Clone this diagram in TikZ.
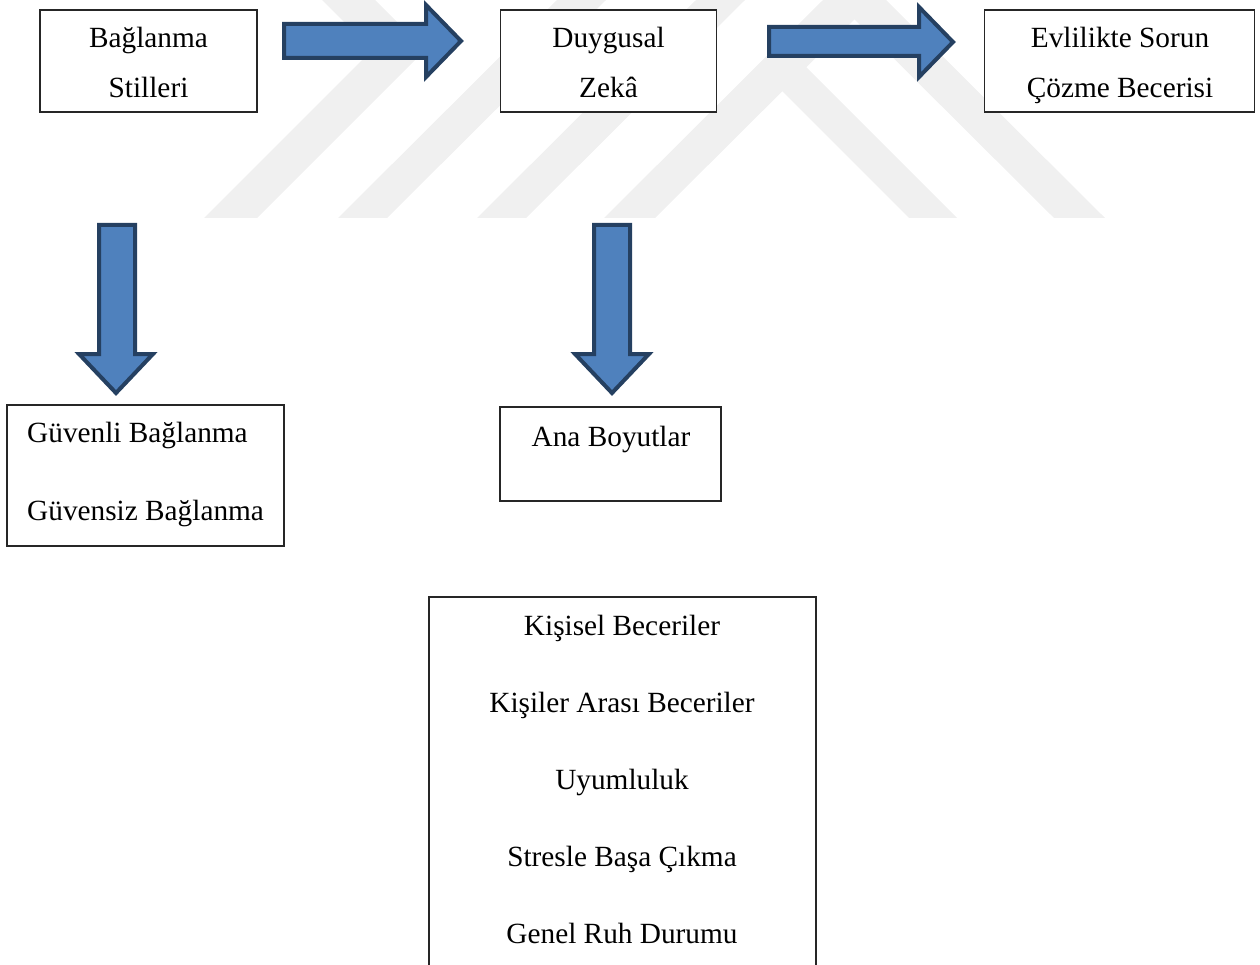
\documentclass[tikz,border=0pt]{standalone}
\usepackage{fontspec}
\setmainfont{Liberation Serif}
\definecolor{arrowfill}{RGB}{79,129,189}
\definecolor{arrowline}{RGB}{37,64,97}
\definecolor{wmgray}{RGB}{240,240,240}
\tikzset{
  boxnode/.style={draw=black!85, line width=1.2pt, fill=white, inner sep=0pt, outer sep=0pt},
  txt/.style={anchor=base, inner sep=0pt, font=\fontsize{29.3}{35}\selectfont},
  txtw/.style={anchor=base west, inner sep=0pt, font=\fontsize{29.3}{35}\selectfont},
  blockarrow/.style={fill=arrowfill, draw=arrowline, line width=4pt, line join=miter},
  wmark/.style={fill=wmgray, draw=none}
}
\begin{document}
\begin{tikzpicture}[x=1pt,y=-1pt]
\useasboundingbox (0,0) rectangle (1260,965);
% faint background watermark
\fill[wmark] (204,218) -- (257,218) -- (425,50) -- (375,0) -- (322,0) -- (372,50) -- cycle;
\fill[wmark] (338,218) -- (387,218) -- (606,0) -- (557,0) -- cycle;
\fill[wmark] (477,218) -- (526,218) -- (745,0) -- (696,0) -- cycle;
\fill[wmark] (604,218) -- (655,218) -- (874,0) -- (823,0) -- cycle;
\fill[wmark] (909,218) -- (957,218) -- (806,67) -- (782,91) -- cycle;
\fill[wmark] (1054,218) -- (1105,218) -- (886,0) -- (835,0) -- cycle;

% boxes
\node[boxnode, minimum width=217pt, minimum height=102pt] (b1) at (148.5,61) {};
\node[boxnode, minimum width=216pt, minimum height=102pt] (b2) at (608.5,61) {};
\node[boxnode, minimum width=270pt, minimum height=102pt] (b3) at (1119.5,61) {};
\node[boxnode, minimum width=277pt, minimum height=141pt] (b4) at (145.5,475.5) {};
\node[boxnode, minimum width=221pt, minimum height=94pt] (b5) at (610.5,454) {};
\node[boxnode, minimum width=387pt, minimum height=406pt] (b6) at (622.5,800) {};

% texts
\node[txt] (t1a) at (148.5,48) {Bağlanma};
\node[txt] (t1b) at (148.5,98) {Stilleri};
\node[txt] (t2a) at (608.5,48) {Duygusal};
\node[txt] (t2b) at (608.5,98) {Zekâ};
\node[txt] (t3a) at (1120,48) {Evlilikte Sorun};
\node[txt] (t3b) at (1120,98) {Çözme Becerisi};
\node[txtw] (t4a) at (27,442) {Güvenli Bağlanma};
\node[txtw] (t4b) at (27,520) {Güvensiz Bağlanma};
\node[txt] (t5) at (611,446) {Ana Boyutlar};
\node[txt] (t6a) at (622,635) {Kişisel Beceriler};
\node[txt] (t6b) at (622,712) {Kişiler Arası Beceriler};
\node[txt] (t6c) at (622,789) {Uyumluluk};
\node[txt] (t6d) at (622,866) {Stresle Başa Çıkma};
\node[txt] (t6e) at (622,943) {Genel Ruh Durumu};

% block arrows
\draw[blockarrow] (284,24) -- (426,24) -- (426,5) -- (461,41) -- (426,77) -- (426,58) -- (284,58) -- cycle;
\draw[blockarrow] (769,27) -- (919,27) -- (919,7) -- (953,42) -- (919,77) -- (919,56) -- (769,56) -- cycle;
\draw[blockarrow] (99,225) -- (135,225) -- (135,354) -- (153,354) -- (116,393) -- (79,354) -- (99,354) -- cycle;
\draw[blockarrow] (594,225) -- (630,225) -- (630,354) -- (649,354) -- (612,393) -- (575,354) -- (594,354) -- cycle;
\end{tikzpicture}
\end{document}
